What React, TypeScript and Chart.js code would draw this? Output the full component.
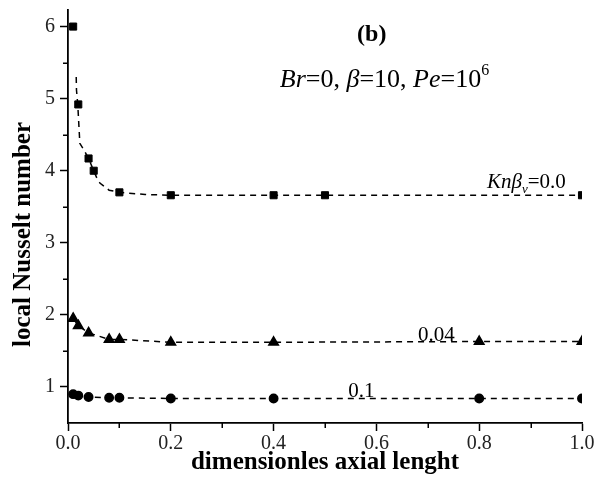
import React, { useEffect, useRef } from "react";
import { Chart, registerables } from "chart.js";

Chart.register(...registerables);

// ---- data ----
const squareX = [0.01, 0.02, 0.04, 0.05, 0.1, 0.2, 0.4, 0.5, 1.0];
const squareY = [6.0, 4.92, 4.17, 4.0, 3.7, 3.66, 3.66, 3.66, 3.66];

const squareFitX = [0.016, 0.0165, 0.019, 0.022, 0.023, 0.03, 0.04, 0.05, 0.056, 0.062, 0.08, 0.1, 0.15, 0.2, 1.0];
const squareFitY = [5.3, 5.12, 4.92, 4.52, 4.38, 4.3, 4.17, 4.0, 3.9, 3.83, 3.73, 3.7, 3.67, 3.66, 3.66];

const triangleX = [0.01, 0.02, 0.04, 0.08, 0.1, 0.2, 0.4, 0.8, 1.0];
const triangleY = [1.95, 1.85, 1.75, 1.66, 1.66, 1.62, 1.62, 1.63, 1.63];

const circleX = [0.01, 0.02, 0.04, 0.08, 0.1, 0.2, 0.4, 0.8, 1.0];
const circleY = [0.9, 0.88, 0.86, 0.85, 0.85, 0.84, 0.84, 0.84, 0.84];

const xTicks = [0, 0.2, 0.4, 0.6, 0.8, 1.0];
const yTicks = [1, 2, 3, 4, 5, 6];
const xMinorTicks = [0.1, 0.3, 0.5, 0.7, 0.9];
const yMinorTicks = [1.5, 2.5, 3.5, 4.5, 5.5];

const xTitle = "dimensionles axial lenght";
const yTitle = "local Nusselt number";

const FAM = '"Liberation Serif", "Times New Roman", serif';

type Seg = { t: string; it?: boolean; b?: boolean; sup?: boolean; sub?: boolean };

function drawRich(
  ctx: CanvasRenderingContext2D,
  segs: Seg[],
  x: number,
  y: number,
  size: number,
  align: "left" | "center"
) {
  const fontOf = (s: Seg) =>
    `${s.it ? "italic " : ""}${s.b ? "bold " : ""}${s.sup || s.sub ? Math.round(size * 0.62) : size}px ${FAM}`;
  const widths = segs.map((s) => {
    ctx.font = fontOf(s);
    return ctx.measureText(s.t).width;
  });
  const total = widths.reduce((a, b) => a + b, 0);
  let cx = align === "center" ? x - total / 2 : x;
  ctx.textAlign = "left";
  ctx.textBaseline = "alphabetic";
  ctx.fillStyle = "#000";
  segs.forEach((s, i) => {
    ctx.font = fontOf(s);
    const dy = s.sup ? -size * 0.45 : s.sub ? size * 0.25 : 0;
    ctx.fillText(s.t, cx, y + dy);
    cx += widths[i];
  });
}

const extrasPlugin = {
  id: "extras",
  afterDraw(chart: any) {
    const ctx: CanvasRenderingContext2D = chart.ctx;
    const xs = chart.scales.x;
    const ys = chart.scales.y;
    const area = chart.chartArea;
    ctx.save();
    // minor ticks
    ctx.strokeStyle = "#000";
    ctx.lineWidth = 1.5;
    ctx.beginPath();
    xMinorTicks.forEach((v) => {
      const px = Math.round(xs.getPixelForValue(v)) + 0.25;
      ctx.moveTo(px, area.bottom);
      ctx.lineTo(px, area.bottom + 5);
    });
    yMinorTicks.forEach((v) => {
      const py = Math.round(ys.getPixelForValue(v)) + 0.25;
      ctx.moveTo(area.left, py);
      ctx.lineTo(area.left - 5, py);
    });
    ctx.stroke();

    // annotations
    const P = (x: number, y: number) => [xs.getPixelForValue(x), ys.getPixelForValue(y)];
    let [a, b] = P(0.591, 5.8);
    drawRich(ctx, [{ t: "(b)", b: true }], a, b, 24, "center");
    [a, b] = P(0.412, 5.16);
    drawRich(
      ctx,
      [
        { t: "Br", it: true },
        { t: "=0, " },
        { t: "β", it: true },
        { t: "=10, " },
        { t: "Pe", it: true },
        { t: "=10" },
        { t: "6", sup: true },
      ],
      a,
      b,
      26,
      "left"
    );
    [a, b] = P(0.815, 3.76);
    drawRich(
      ctx,
      [
        { t: "Knβ", it: true },
        { t: "v", it: true, sub: true },
        { t: "=0.0" },
      ],
      a,
      b,
      21,
      "left"
    );
    [a, b] = P(0.681, 1.643);
    drawRich(ctx, [{ t: "0.04" }], a, b, 21, "left");
    [a, b] = P(0.545, 0.865);
    drawRich(ctx, [{ t: "0.1" }], a, b, 21, "left");

    // y title
    ctx.translate(24, 234.5);
    ctx.rotate(-Math.PI / 2);
    ctx.font = `bold 25px ${FAM}`;
    ctx.textAlign = "center";
    ctx.textBaseline = "middle";
    ctx.fillStyle = "#000";
    ctx.fillText(yTitle, 0, 0);
    ctx.restore();
  },
};

export default function App() {
  const ref = useRef<HTMLCanvasElement>(null);
  useEffect(() => {
    const canvas = ref.current!;
    const pts = (xs: number[], ys: number[]) => xs.map((x, i) => ({ x, y: ys[i] }));
    const tickFont = { family: FAM, size: 20 };
    const clipArea = { left: 0, right: 0, top: 0, bottom: 0 };
    const chart = new Chart(canvas, {
      type: "scatter",
      data: {
        datasets: [
          {
            label: "fit0",
            data: pts(squareFitX, squareFitY),
            showLine: true,
            pointRadius: 0,
            borderColor: "#000",
            borderWidth: 1.5,
            borderDash: [6, 5],
            tension: 0,
            clip: clipArea,
          },
          {
            label: "Knβv=0.0",
            data: pts(squareX, squareY),
            showLine: false,
            pointStyle: "rect",
            pointRadius: 5,
            backgroundColor: "#000",
            borderColor: "#000",
            borderWidth: 1,
            clip: clipArea,
          },
          {
            label: "0.04",
            data: pts(triangleX, triangleY),
            showLine: true,
            borderDash: [6, 5],
            borderWidth: 1.5,
            pointStyle: "triangle",
            pointRadius: 5.5,
            backgroundColor: "#000",
            borderColor: "#000",
            clip: clipArea,
          },
          {
            label: "0.1",
            data: pts(circleX, circleY),
            showLine: true,
            borderDash: [6, 5],
            borderWidth: 1.5,
            pointStyle: "circle",
            pointRadius: 4.2,
            backgroundColor: "#000",
            borderColor: "#000",
            clip: clipArea,
          },
        ] as any,
      },
      options: {
        responsive: false,
        animation: false,
        events: [],
        layout: { padding: { top: 10, right: 18, left: 0, bottom: 0 }, autoPadding: false } as any,
        plugins: { legend: { display: false }, tooltip: { enabled: false } },
        scales: {
          x: {
            type: "linear",
            min: 0,
            max: 1,
            afterBuildTicks: (s: any) => {
              s.ticks = xTicks.map((v) => ({ value: v }));
            },
            afterFit: (s: any) => {
              s.height = 63;
              s.paddingLeft = 0;
              s.paddingRight = 0;
            },
            ticks: {
              font: tickFont,
              color: "#222",
              padding: 1,
              maxRotation: 0,
              autoSkip: false,
              callback: (v: any) => Number(v).toFixed(1),
            },
            grid: {
              display: true,
              drawOnChartArea: false,
              drawTicks: true,
              tickLength: 8,
              tickWidth: 1.5,
              tickColor: "#000",
            },
            border: { display: true, color: "#000", width: 1.8 },
            title: {
              display: true,
              text: xTitle,
              color: "#000",
              font: { family: FAM, size: 25, weight: "bold" },
              padding: { top: 0, bottom: 8 },
            },
          },
          y: {
            type: "linear",
            min: 0.5,
            max: 6.23,
            afterBuildTicks: (s: any) => {
              s.ticks = yTicks.map((v) => ({ value: v }));
            },
            afterFit: (s: any) => {
              s.width = 68;
              s.paddingTop = 0;
              s.paddingBottom = 0;
            },
            ticks: {
              font: tickFont,
              color: "#222",
              padding: 5,
              autoSkip: false,
              callback: (v: any) => String(v),
            },
            grid: {
              display: true,
              drawOnChartArea: false,
              drawTicks: true,
              tickLength: 8,
              tickWidth: 1.5,
              tickColor: "#000",
            },
            border: { display: true, color: "#000", width: 1.8 },
            title: { display: false },
          },
        },
      } as any,
      plugins: [extrasPlugin],
    });
    return () => chart.destroy();
  }, []);
  return (
    <div style={{ position: "fixed", left: 0, top: 0, width: 600, height: 486, background: "#fff" }}>
      <canvas ref={ref} width={600} height={486} style={{ width: 600, height: 486, display: "block" }} />
    </div>
  );
}
